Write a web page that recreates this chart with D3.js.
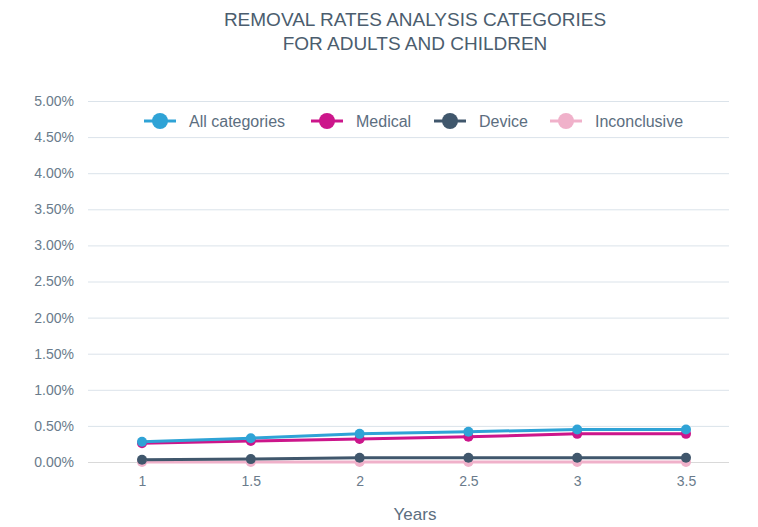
<!DOCTYPE html>
<html>
<head>
<meta charset="utf-8">
<script src="https://cdn.jsdelivr.net/npm/d3@7"></script>
<style>
  body { margin: 0; background: #fff; }
  svg text { font-family: "Liberation Sans", Arial, sans-serif; }
</style>
</head>
<body>
<div id="chart"></div>
<script>
// data
var years = [1, 1.5, 2, 2.5, 3, 3.5];
var allCategories = [0.28, 0.33, 0.39, 0.42, 0.45, 0.45];
var medical = [0.26, 0.29, 0.32, 0.35, 0.39, 0.39];
var device = [0.03, 0.04, 0.06, 0.06, 0.06, 0.06];
var inconclusive = [0.0, 0.0, 0.0, 0.0, 0.0, 0.0];
var yTicks = [0, 0.5, 1, 1.5, 2, 2.5, 3, 3.5, 4, 4.5, 5];

var series = [
    {name: "All categories", values: allCategories, color: "#2fa3d6"},
    {name: "Medical", values: medical, color: "#cc168b"},
    {name: "Device", values: device, color: "#40576c"},
    {name: "Inconclusive", values: inconclusive, color: "#f0b1ca"}
];

var width = 758, height = 527;
var svg = d3.select("#chart").append("svg")
    .attr("width", width)
    .attr("height", height);

var x = d3.scaleLinear().domain([1, 3.5]).range([142, 686]);
var y = d3.scaleLinear().domain([0, 5]).range([462, 101]);
var gridLeft = 88, gridRight = 729;

// title
svg.append("text")
    .attr("x", 415).attr("y", 26)
    .attr("text-anchor", "middle")
    .attr("fill", "#4b5d6e")
    .style("font-size", "19px")
    .text("REMOVAL RATES ANALYSIS CATEGORIES");
svg.append("text")
    .attr("x", 415).attr("y", 50)
    .attr("text-anchor", "middle")
    .attr("fill", "#4b5d6e")
    .style("font-size", "19px")
    .text("FOR ADULTS AND CHILDREN");

// grid lines
svg.append("g").selectAll("line")
    .data(yTicks)
    .enter().append("line")
    .attr("x1", gridLeft).attr("x2", gridRight)
    .attr("y1", function (d) { return y(d) + 0.5; })
    .attr("y2", function (d) { return y(d) + 0.5; })
    .attr("stroke", function (d) { return d === 0 ? "#d9d9d9" : "#dbe3ea"; })
    .attr("stroke-width", 1);

// y axis labels
var yAxis = svg.append("g")
    .attr("transform", "translate(74,0)")
    .call(d3.axisLeft(y).tickValues(yTicks).tickSize(0).tickPadding(0)
        .tickFormat(function (d) { return d.toFixed(2) + "%"; }));
yAxis.select(".domain").remove();
yAxis.selectAll("text")
    .attr("fill", "#6a7b8b")
    .style("font-size", "14px");

// x axis labels
var xAxis = svg.append("g")
    .attr("transform", "translate(0,476)")
    .call(d3.axisBottom(x).tickValues(years).tickSize(0).tickPadding(0)
        .tickFormat(function (d) { return d; }));
xAxis.select(".domain").remove();
xAxis.selectAll("text")
    .attr("fill", "#6a7b8b")
    .attr("dy", "0.71em")
    .style("font-size", "14px");

svg.append("text")
    .attr("x", 415).attr("y", 520)
    .attr("text-anchor", "middle")
    .attr("fill", "#5c6e80")
    .style("font-size", "17px")
    .text("Years");

// lines
var line = d3.line()
    .x(function (d, i) { return x(years[i]); })
    .y(function (d) { return y(d); });

var order = series.slice().reverse();
order.forEach(function (s) {
    svg.append("path")
        .datum(s.values)
        .attr("fill", "none")
        .attr("stroke", s.color)
        .attr("stroke-width", 3)
        .attr("d", line);
});
order.forEach(function (s) {
    svg.append("g").selectAll("circle")
        .data(s.values)
        .enter().append("circle")
        .attr("cx", function (d, i) { return x(years[i]); })
        .attr("cy", function (d) { return y(d); })
        .attr("r", 5)
        .attr("fill", s.color);
});

// legend
var legendX = [160, 327, 450, 566];
var legend = svg.append("g").selectAll("g")
    .data(series)
    .enter().append("g")
    .attr("transform", function (d, i) { return "translate(" + legendX[i] + ",121)"; });
legend.append("line")
    .attr("x1", -16).attr("x2", 16)
    .attr("stroke", function (d) { return d.color; })
    .attr("stroke-width", 3);
legend.append("circle")
    .attr("r", 8)
    .attr("fill", function (d) { return d.color; });
legend.append("text")
    .attr("x", 29).attr("dy", "0.35em")
    .attr("fill", "#5c6e80")
    .style("font-size", "16px")
    .text(function (d) { return d.name; });
</script>
</body>
</html>
